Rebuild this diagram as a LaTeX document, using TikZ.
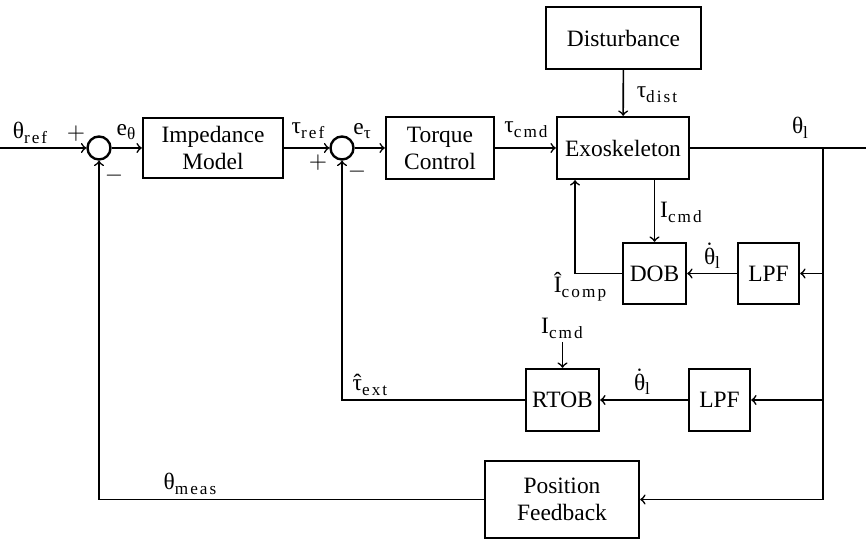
\documentclass[tikz,border=0pt]{standalone}
\usepackage{fontspec}
\setmainfont{Liberation Serif}
\newfontfamily\subfont[LetterSpace=12]{Liberation Serif}
\newcommand{\pxu}{0.465pt}
% signal name with a lowered, letter-spaced subscript
\newcommand{\sg}[2]{#1\raisebox{-0.45ex}{\fontsize{8pt}{8pt}\subfont #2}}
% accents stacked by hand over a letter
\newcommand{\dotted}[1]{\ooalign{\hfil\raisebox{0.24em}{˙}\hfil\cr #1\cr}}
\newcommand{\hatted}[1]{\ooalign{\hfil ˆ\hfil\cr #1\cr}}
\tikzset{
  blk/.style 2 args={draw, line width=1.1pt, minimum width=#1*\pxu,
    minimum height=#2*\pxu, inner sep=0pt, align=center},
  sumnode/.style={draw, circle, line width=1.1pt, minimum size=23*\pxu, inner sep=0pt},
  wire/.style={line width=0.75pt},
  lbl/.style={inner sep=0pt}
}
\begin{document}
\begin{tikzpicture}[x=\pxu, y=-\pxu, font=\fontsize{10.9pt}{12.6pt}\selectfont]
\useasboundingbox (0,0) rectangle (866,541);

% blocks
\node[sumnode] (s1) at (99,148) {};
\node[blk={140}{60}] (imp) at (213,148) {Impedance\\Model};
\node[sumnode] (s2) at (342,148) {};
\node[blk={108}{62}] (tc) at (440,148) {Torque\\Control};
\node[blk={132}{62}] (exo) at (623,148) {Exoskeleton};
\node[blk={155}{62}] (dist) at (623.5,38) {Disturbance};
\node[blk={63}{61}] (dob) at (654.5,273.5) {DOB};
\node[blk={61}{61}] (lpfa) at (768.5,273.5) {LPF};
\node[blk={73}{62}] (rtob) at (562.5,400) {RTOB};
\node[blk={61}{62}] (lpfb) at (719.5,400) {LPF};
\node[blk={154}{77}] (pf) at (562,499.5) {Position\\Feedback};

% free ends and branch points
\coordinate (in) at (0,148);
\coordinate (out) at (866,148);
\coordinate (br) at (823,148);
\coordinate (brA) at (823,273.5);
\coordinate (brB) at (823,400);
\coordinate (brC) at (823,499.5);
\coordinate (cmp) at (575,273.5);
\coordinate (icin) at (562.5,342);

% forward path
\draw[wire,->] (in) -- (s1);
\draw[wire,->] (s1) -- (imp);
\draw[wire,->] (imp) -- (s2);
\draw[wire,->] (s2) -- (tc);
\draw[wire,->] (tc) -- (exo);
\draw[wire,->] (dist) -- (exo);
\draw[wire] (exo) -- (out);

% disturbance observer loop
\draw[wire] (br) -- (brC);
\draw[wire,->] (brA) -- (lpfa);
\draw[wire,->] (lpfa) -- (dob);
\draw[wire,->] (exo.south -| dob) -- (dob);
\draw[wire,->] (dob) -- (cmp) -- (cmp |- exo.south);

% reaction torque observer loop
\draw[wire,->] (brB) -- (lpfb);
\draw[wire,->] (lpfb) -- (rtob);
\draw[wire,->] (icin) -- (rtob);
\draw[wire,->] (rtob) -| (s2);

% position feedback loop
\draw[wire,->] (brC) -- (pf);
\draw[wire,->] (pf) -| (s1);

% signal labels
\node[lbl] (lref) at (30,133) {\sg{θ}{ref}};
\node[lbl] (lp1) at (76,134) {$+$};
\node[lbl] (lm1) at (114,176) {$-$};
\node[lbl] (leth) at (126,132) {\sg{e}{θ}};
\node[lbl] (ltref) at (308,131) {\sg{τ}{ref}};
\node[lbl] (lp2) at (318,163) {$+$};
\node[lbl] (lm2) at (357,172) {$-$};
\node[lbl] (letau) at (362,131) {\sg{e}{τ}};
\node[lbl] (ltcmd) at (526,130) {\sg{τ}{cmd}};
\node[lbl] (ltdist) at (657,95) {\sg{τ}{dist}};
\node[lbl] (lthl) at (800,128) {\sg{θ}{l}};
\node[lbl] (licA) at (681,212) {\sg{I}{cmd}};
\node[lbl] (licomp) at (580,287) {\sg{Î}{comp}};
\node[lbl] (ldthA) at (712,256) {\sg{\dotted{θ}}{l}};
\node[lbl] (licB) at (562,328) {\sg{I}{cmd}};
\node[lbl] (ldthB) at (642,382) {\sg{\dotted{θ}}{l}};
\node[lbl] (ltext) at (370,385) {\sg{\hatted{τ}}{ext}};
\node[lbl] (lmeas) at (190,484) {\sg{θ}{meas}};
\end{tikzpicture}
\end{document}
